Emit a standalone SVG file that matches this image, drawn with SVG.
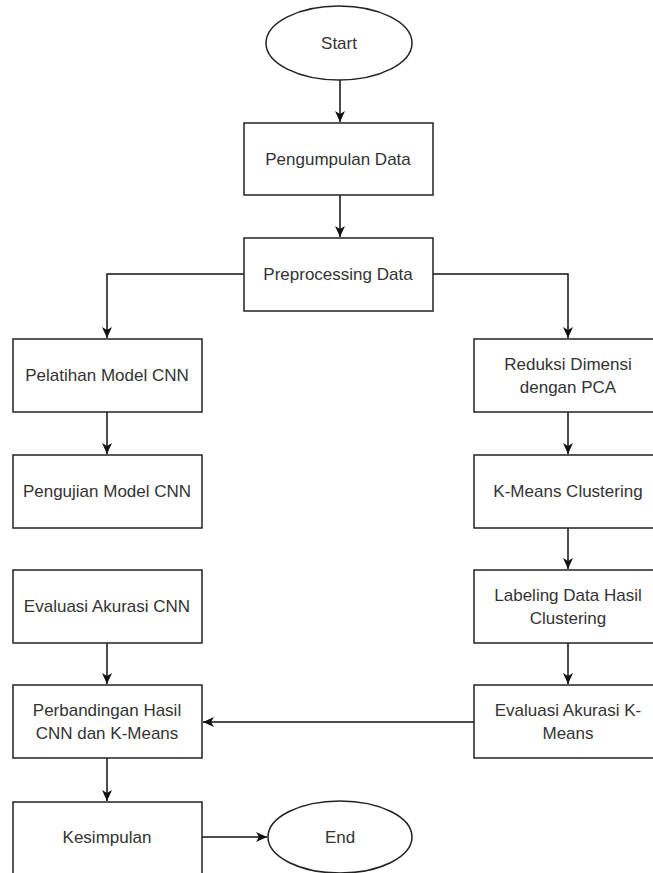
<svg xmlns="http://www.w3.org/2000/svg" width="653" height="873" viewBox="0 0 653 873">
<style>
.box{fill:#fff;stroke:#222;stroke-width:1.5}
.lbl{font-family:"Liberation Sans",Arial,sans-serif;font-size:17px;fill:#333;text-anchor:middle}
.edge{fill:none;stroke:#111;stroke-width:1.5}
</style>
<defs>
<marker id="arr" markerUnits="userSpaceOnUse" markerWidth="12" markerHeight="10" refX="11" refY="5" orient="auto">
<path d="M0,0 L11,5 L0,10 L3,5 Z" fill="#111"/>
</marker>
</defs>
<rect width="653" height="873" fill="#fff"/>
<g id="connectors">
<path class="edge" d="M340,80 V122" marker-end="url(#arr)"/>
<path class="edge" d="M340,195 V237" marker-end="url(#arr)"/>
<path class="edge" d="M244,274 H107 V338" marker-end="url(#arr)"/>
<path class="edge" d="M433,274 H568 V338" marker-end="url(#arr)"/>
<path class="edge" d="M107,412 V454" marker-end="url(#arr)"/>
<path class="edge" d="M568,412 V454" marker-end="url(#arr)"/>
<path class="edge" d="M568,528 V569" marker-end="url(#arr)"/>
<path class="edge" d="M568,643 V684" marker-end="url(#arr)"/>
<path class="edge" d="M107,643 V684" marker-end="url(#arr)"/>
<path class="edge" d="M474,722 H203" marker-end="url(#arr)"/>
<path class="edge" d="M107,758 V801" marker-end="url(#arr)"/>
<path class="edge" d="M202,837 H267" marker-end="url(#arr)"/>
</g>
<g id="start">
<ellipse class="box" cx="339" cy="43" rx="73" ry="37"/>
<text class="lbl" x="339" y="49">Start</text>
</g>
<g id="pengumpulan">
<rect class="box" x="244" y="123" width="189" height="72"/>
<text class="lbl" x="338" y="165">Pengumpulan Data</text>
</g>
<g id="preprocessing">
<rect class="box" x="244" y="238" width="189" height="73"/>
<text class="lbl" x="338" y="280">Preprocessing Data</text>
</g>
<g id="pelatihan">
<rect class="box" x="13" y="339" width="189" height="73"/>
<text class="lbl" x="107" y="381">Pelatihan Model CNN</text>
</g>
<g id="pengujian">
<rect class="box" x="13" y="455" width="189" height="73"/>
<text class="lbl" x="107" y="497">Pengujian Model CNN</text>
</g>
<g id="evaluasi-cnn">
<rect class="box" x="13" y="570" width="189" height="73"/>
<text class="lbl" x="107" y="612">Evaluasi Akurasi CNN</text>
</g>
<g id="perbandingan">
<rect class="box" x="13" y="685" width="189" height="73"/>
<text class="lbl" x="107" y="716">Perbandingan Hasil</text>
<text class="lbl" x="107" y="739">CNN dan K-Means</text>
</g>
<g id="kesimpulan">
<rect class="box" x="13" y="802" width="189" height="73"/>
<text class="lbl" x="107" y="843">Kesimpulan</text>
</g>
<g id="end">
<ellipse class="box" cx="340" cy="837" rx="72" ry="36"/>
<text class="lbl" x="340" y="843">End</text>
</g>
<g id="reduksi">
<rect class="box" x="474" y="339" width="189" height="73"/>
<text class="lbl" x="568" y="370">Reduksi Dimensi</text>
<text class="lbl" x="568" y="393">dengan PCA</text>
</g>
<g id="kmeans">
<rect class="box" x="474" y="455" width="189" height="73"/>
<text class="lbl" x="568" y="497">K-Means Clustering</text>
</g>
<g id="labeling">
<rect class="box" x="474" y="570" width="189" height="73"/>
<text class="lbl" x="568" y="601">Labeling Data Hasil</text>
<text class="lbl" x="568" y="624">Clustering</text>
</g>
<g id="evaluasi-kmeans">
<rect class="box" x="474" y="685" width="189" height="73"/>
<text class="lbl" x="568" y="716">Evaluasi Akurasi K-</text>
<text class="lbl" x="568" y="739">Means</text>
</g>
</svg>
